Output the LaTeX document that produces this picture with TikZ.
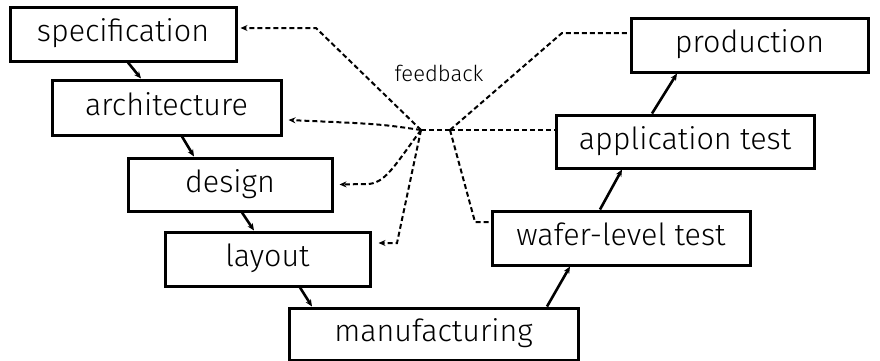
\documentclass[tikz,border=0pt]{standalone}
\usepackage{fontspec}
\setmainfont{Fira Sans}[UprightFont=* Light]
\usetikzlibrary{arrows.meta}
\begin{document}
\begin{tikzpicture}[x=1pt,y=-1pt,
  stage/.style={draw=black,line width=3pt,fill=white,inner sep=0pt,text height=21pt,text depth=6pt,font=\fontsize{30.5}{34}\selectfont},
  flow/.style={line width=2.6pt,-{Stealth[length=7pt,width=6pt]}},
  fb/.style={line width=2pt,dash pattern=on 5pt off 3pt},
  fbarrow/.style={fb,-{Stealth[length=7pt,width=6pt]}}]
\useasboundingbox (0,0) rectangle (880,360);
\node[stage,minimum width=226pt,minimum height=54pt] (spec) at (123,34) {specification};
\node[stage,minimum width=229pt,minimum height=55pt] (arch) at (166.5,107.5) {architecture};
\node[stage,minimum width=204pt,minimum height=53pt] (design) at (230,184.5) {design};
\node[stage,minimum width=205pt,minimum height=54pt] (layout) at (267.5,259) {layout};
\node[stage,minimum width=289pt,minimum height=52pt] (manuf) at (433.5,334) {manufacturing};
\node[stage,minimum width=258pt,minimum height=54pt] (wafer) at (621,238) {wafer-level test};
\node[stage,minimum width=258pt,minimum height=53pt] (app) at (685,141.5) {application test};
\node[stage,minimum width=237pt,minimum height=54pt] (prod) at (749.5,45) {production};
\node[font=\fontsize{22}{24}\selectfont] (fbl) at (439,73) {feedback};
% flow arrows
\draw[flow] ([xshift=5pt]spec.south) -- ([xshift=-25.5pt]arch.north);
\draw[flow] ([xshift=15.5pt]arch.south) -- ([xshift=-36pt]design.north);
\draw[flow] ([xshift=12pt]design.south) -- ([xshift=-13.5pt]layout.north);
\draw[flow] ([xshift=32.5pt]layout.south) -- ([xshift=-121.5pt]manuf.north);
\draw[flow] ([xshift=113.5pt]manuf.north) -- ([xshift=-51pt]wafer.south);
\draw[flow] ([xshift=-21pt]wafer.north) -- ([xshift=-63pt]app.south);
\draw[flow] ([xshift=-33pt]app.north) -- ([xshift=-72.5pt]prod.south);
% feedback hub
\coordinate (hubA) at (421,130);
\coordinate (hubB) at (450,130);
\draw[fb] (hubA) -- (hubB);
\draw[fbarrow] (hubA) -- (316,28) -- ([xshift=3pt,yshift=6pt]spec.east);
\draw[fbarrow] (hubA) .. controls (380,124) .. ([xshift=6pt,yshift=-12.5pt]arch.east);
\draw[fbarrow] (hubA) .. controls (395,165) and (385,184) .. (367,184) -- ([xshift=6pt]design.east);
\draw[fbarrow] (hubA) -- (397,243) -- ([xshift=7pt,yshift=16pt]layout.east);
\draw[fb] (hubB) -- (562,33) -- ([yshift=12pt]prod.west);
\draw[fb] (hubB) -- ([yshift=11.5pt]app.west);
\draw[fb] (hubB) -- (475,222) -- ([yshift=16pt]wafer.west);
\end{tikzpicture}
\end{document}
